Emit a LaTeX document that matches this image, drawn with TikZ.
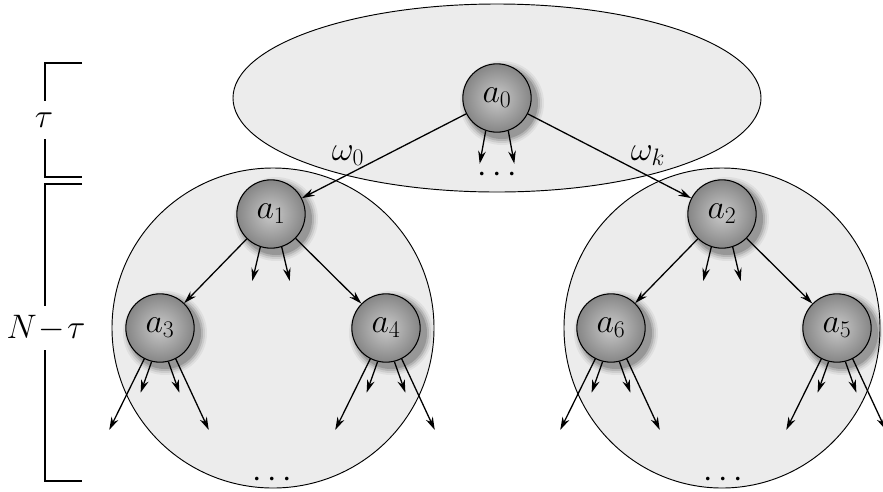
\RequirePackage{fix-cm}
\documentclass[tikz,border=0pt]{standalone}
\usetikzlibrary{arrows.meta,shapes.geometric}
\begin{document}
\begin{tikzpicture}[x=0.03cm,y=-0.03cm,
  ball/.style={circle,draw=black,line width=0.9pt,minimum size=2.05cm,inner sep=0pt,
    inner color=gray!42,outer color=gray!95,font=\fontsize{29}{33}\selectfont},
  region/.style={ellipse,line width=0.8pt,inner sep=0pt},
  arr/.style={line width=1.1pt,-{Stealth[length=11pt,width=6.5pt]}},
  lbl/.style={font=\fontsize{29}{33}\selectfont,inner sep=1pt},
  bracket/.style={line width=1.6pt}]
\useasboundingbox (0,0) rectangle (883,491);
% regions: fills first, outlines after
\node[region,fill=gray!15,minimum width=15.84cm,minimum height=5.64cm] (top) at (497,98) {};
\node[region,fill=gray!15,minimum width=9.66cm,minimum height=9.6cm] (left) at (273,328) {};
\node[region,fill=gray!15,minimum width=9.48cm,minimum height=9.6cm] (right) at (722,328) {};
\node[region,draw=black,minimum width=15.84cm,minimum height=5.64cm] (topo) at (top) {};
\node[region,draw=black,minimum width=9.66cm,minimum height=9.6cm] (lefto) at (left) {};
\node[region,draw=black,minimum width=9.48cm,minimum height=9.6cm] (righto) at (right) {};
% centres
\coordinate (p0) at (497,98);
\coordinate (p1) at (271,214);
\coordinate (p2) at (722,214);
\coordinate (p3) at (160,328);
\coordinate (p4) at (386,328);
\coordinate (p6) at (611,328);
\coordinate (p5) at (837,328);
% shadows
\foreach \p in {p0,p1,p2,p3,p4,p6,p5}{
  \foreach \r/\op in {42/0.05,40/0.08,38/0.12,36/0.16}
    \fill[black,opacity=\op] ([shift={(5,5)}]\p) circle[radius=\r];
}
% balls
\node[ball] (a0) at (p0) {$a_0$};
\node[ball] (a1) at (p1) {$a_1$};
\node[ball] (a2) at (p2) {$a_2$};
\node[ball] (a3) at (p3) {$a_3$};
\node[ball] (a4) at (p4) {$a_4$};
\node[ball] (a6) at (p6) {$a_6$};
\node[ball] (a5) at (p5) {$a_5$};
% tree arrows
\draw[arr] (a0) -- (a1);
\draw[arr] (a0) -- (a2);
\draw[arr] (a1) -- (a3);
\draw[arr] (a1) -- (a4);
\draw[arr] (a2) -- (a6);
\draw[arr] (a2) -- (a5);
% short arrows
\draw[arr] (a0.251) -- ++(-6,33);
\draw[arr] (a0.289) -- ++(6,33);
\foreach \n in {a1,a2}{
  \draw[arr] (\n.252) -- ++(-8,34);
  \draw[arr] (\n.288) -- ++(8,34);
}
\foreach \n in {a3,a4,a6,a5}{
  \draw[arr] (\n.243) -- ++(-35,71);
  \draw[arr] (\n.256) -- ++(-11,31);
  \draw[arr] (\n.284) -- ++(11,31);
  \draw[arr] (\n.297) -- ++(33,71);
}
% labels
\node[lbl] (w0) at (348,156) {$\omega_0$};
\node[lbl] (wk) at (648,156) {$\omega_k$};
\node[lbl] (d0) at (497,175) {$\cdots$};
\node[lbl] (d1) at (272,480) {$\cdots$};
\node[lbl] (d2) at (723,480) {$\cdots$};
% brackets
\node[lbl] (tau) at (44,120) {$\tau$};
\node[lbl] (ntau) at (46,328) {$N\!-\!\tau$};
\coordinate (t1) at (82,63);
\coordinate (t2) at (82,177);
\coordinate (n1) at (82,184);
\coordinate (n2) at (82,481);
\draw[bracket] (t1) -- (45,63) -- (45,101);
\draw[bracket] (45,139) -- (45,177) -- (t2);
\draw[bracket] (n1) -- (45,184) -- (45,306);
\draw[bracket] (45,350) -- (45,481) -- (n2);
\end{tikzpicture}
\end{document}
